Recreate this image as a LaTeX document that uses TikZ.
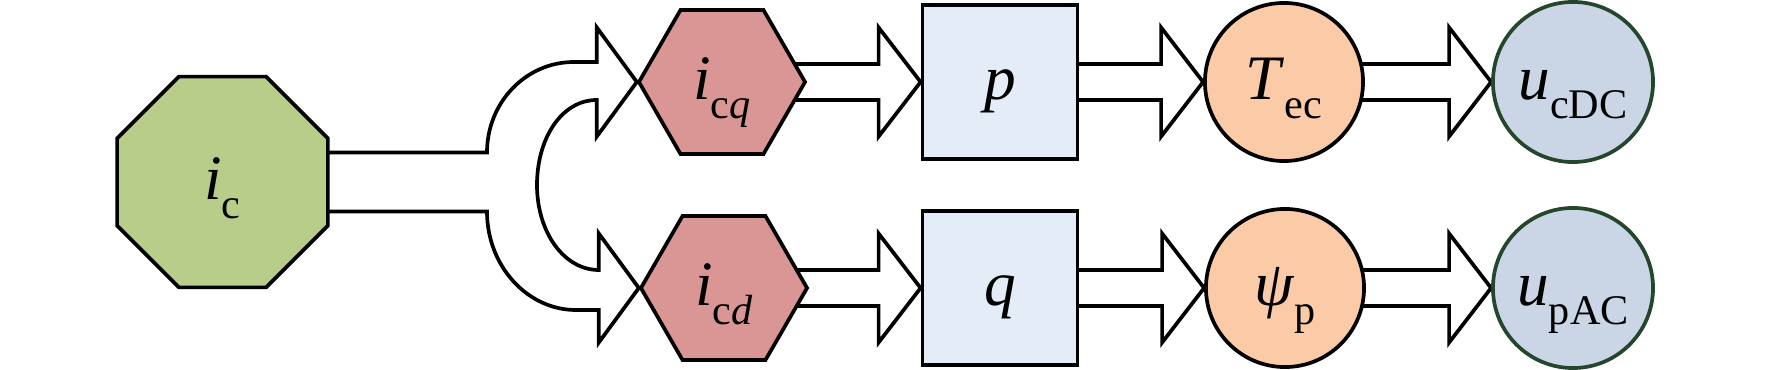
\documentclass[tikz,border=0pt]{standalone}
\usepackage{fontspec}
\setmainfont{Liberation Serif}
\usepackage{tikz}
\usetikzlibrary{shapes.geometric,calc,backgrounds}
\usepackage{xcolor}
\definecolor{icgreen}{RGB}{183,205,137}
\definecolor{hexred}{RGB}{217,150,148}
\definecolor{boxblue}{RGB}{228,236,247}
\definecolor{peach}{RGB}{250,203,166}
\definecolor{greyblue}{RGB}{202,214,230}
\definecolor{darkgreen}{RGB}{35,70,45}
% italic symbol with upright subscript
\newcommand{\sym}[2]{\textit{#1}\raisebox{-0.3em}[0pt][0pt]{\fontsize{12}{12}\selectfont #2}}
\tikzset{
    varnode/.style={
        draw,
        line width=1.05pt,
        inner sep=0pt,
        text height=10pt,
        text depth=0pt,
        font=\fontsize{18}{20}\selectfont
    },
    octnode/.style={
        varnode,
        regular polygon,
        regular polygon sides=8,
        minimum size=2.28cm,
        fill=icgreen
    },
    hexnode/.style={
        varnode,
        regular polygon,
        regular polygon sides=6,
        minimum size=1.66cm,
        fill=hexred
    },
    boxnode/.style={
        varnode,
        rectangle,
        minimum width=1.55cm,
        minimum height=1.54cm,
        fill=boxblue
    },
    outnode/.style={
        varnode,
        circle,
        minimum size=1.58cm,
        fill=peach
    },
    endnode/.style={
        varnode,
        circle,
        minimum size=1.6cm,
        fill=greyblue,
        draw=darkgreen
    },
    arrowline/.style={
        draw,
        line width=1.05pt,
        fill=white,
        line join=miter
    },
    fatarrow/.style={
        arrowline,
        to path={($(\tikztostart.center)+(0,-18)$) -- ($(\tikztotarget.west)+(-42,-18)$)
            -- ($(\tikztotarget.west)+(-42,-54.5)$) -- (\tikztotarget.west)
            -- ($(\tikztotarget.west)+(-42,54.5)$) -- ($(\tikztotarget.west)+(-42,18)$)
            -- ($(\tikztostart.center)+(0,18)$) -- cycle}
    }
}

\begin{document}
\begin{tikzpicture}[x=0.01cm,y=-0.01cm]
    \useasboundingbox (0,0) rectangle (1772,370);
    % Source current
    \node[octnode] (ic) at (222.5,182) {\sym{i}{c}};
    \coordinate (split) at (487,182);
    \coordinate (loop) at (537,185);

    % Upper row
    \node[hexnode] (icq) at (722,82) {\sym{i}{c\textit{q}}};
    \node[boxnode] (p) at (1000,82) {\textit{p}};
    \node[outnode] (Tec) at (1284,82) {\sym{T}{ec}};
    \node[endnode] (ucdc) at (1573,82) {\sym{u}{cDC}};

    % Lower row
    \node[hexnode] (icd) at (724,288) {\sym{i}{c\textit{d}}};
    \node[boxnode] (q) at (1000,288) {\textit{q}};
    \node[outnode] (psip) at (1285,288) {\sym{ψ}{p}};
    \node[endnode] (upac) at (1573,288) {\sym{u}{pAC}};

    \begin{scope}[on background layer]
        % Split arrow
        \draw[arrowline] ($(ic.center)+(0,-29.5)$) -- ($(split)+(0,-29.5)$)
            .. controls +(0,-50) and +(-48,0) .. ($(icq.west)+(-63,-20)$)
            -- ($(icq.west)+(-40,-20)$) -- ($(icq.west)+(-40,-54.5)$) -- (icq.west)
            -- ($(icq.west)+(-40,54.5)$) -- ($(icq.west)+(-40,18)$)
            .. controls +(-35,0) and +(0,-47) .. (loop)
            .. controls +(0,47) and +(-35,0) .. ($(icd.west)+(-40,-18)$)
            -- ($(icd.west)+(-40,-54.5)$) -- (icd.west)
            -- ($(icd.west)+(-40,54.5)$) -- ($(icd.west)+(-40,22)$)
            -- ($(icd.west)+(-63,22)$)
            .. controls +(-48,0) and +(0,55) .. ($(split)+(0,29.5)$)
            -- ($(ic.center)+(0,29.5)$) -- cycle;
        % Row arrows
        \draw[fatarrow] (icq) to (p);
        \draw[fatarrow] (p) to (Tec);
        \draw[fatarrow] (Tec) to (ucdc);
        \draw[fatarrow] (icd) to (q);
        \draw[fatarrow] (q) to (psip);
        \draw[fatarrow] (psip) to (upac);
    \end{scope}
\end{tikzpicture}
\end{document}
